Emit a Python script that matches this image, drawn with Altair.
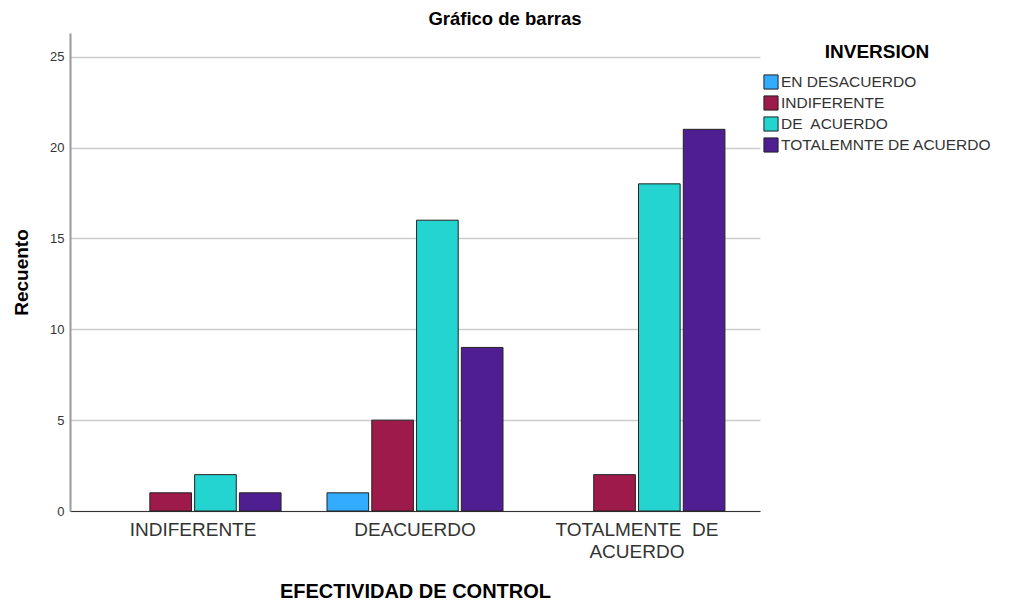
import altair as alt
import pandas as pd

categories = ["INDIFERENTE", "DEACUERDO", "TOTALMENTE\u00a0 DE|ACUERDO"]
series = ["EN DESACUERDO", "INDIFERENTE", "DE\u00a0 ACUERDO", "TOTALEMNTE DE ACUERDO"]
colors = ["#33abff", "#9e1a4a", "#23d4d0", "#4f1f91"]
values = {
    "EN DESACUERDO": [0, 1, 0],
    "INDIFERENTE": [1, 5, 2],
    "DE\u00a0 ACUERDO": [2, 16, 18],
    "TOTALEMNTE DE ACUERDO": [1, 9, 21],
}
y_ticks = [0, 5, 10, 15, 20, 25]

rows = []
for s in series:
    for c, v in zip(categories, values[s]):
        if v > 0:
            rows.append({"cat": c, "serie": s, "count": v})
df = pd.DataFrame(rows)

FONT = "Liberation Sans"

chart = alt.Chart(df).mark_bar(stroke="#222222", strokeWidth=1).encode(
    x=alt.X("cat:N", sort=categories,
            scale=alt.Scale(paddingInner=0.207, paddingOuter=0.158),
            axis=alt.Axis(title="EFECTIVIDAD DE CONTROL", labelAngle=0,
                          labelExpr="split(datum.label, '|')",
                          labelFontSize=19, labelColor="#333333", labelFont=FONT,
                          labelPadding=9, labelLineHeight=22,
                          ticks=False, domainColor="#333333", domainWidth=1,
                          titleFontSize=20, titleFont=FONT, titleFontWeight="bold",
                          titleColor="#000000", titlePadding=20)),
    xOffset=alt.XOffset("serie:N", sort=series,
                        scale=alt.Scale(domain=series, paddingInner=0.07)),
    y=alt.Y("count:Q",
            scale=alt.Scale(domain=[0, 26.3], nice=False),
            axis=alt.Axis(title="Recuento", values=y_ticks, grid=True,
                          gridColor="#cccccc", gridWidth=1.5, ticks=False,
                          domainColor="#999999", domainWidth=2,
                          labelFontSize=13, labelColor="#333333", labelFont=FONT,
                          labelPadding=6,
                          titleFontSize=19, titleFont=FONT, titleFontWeight="bold",
                          titleColor="#000000", titlePadding=18)),
    color=alt.Color("serie:N", sort=series,
                    scale=alt.Scale(domain=series, range=colors),
                    legend=alt.Legend(title="INVERSION", orient="none",
                                      legendX=693, legendY=10,
                                      symbolType="square", symbolSize=200,
                                      symbolStrokeColor="#222222", symbolStrokeWidth=1,
                                      symbolOpacity=1, labelLimit=400,
                                      labelFontSize=15.5, labelFont=FONT, labelColor="#333333",
                                      labelOffset=2, rowPadding=1,
                                      titleFontSize=19, titleFont=FONT, titleFontWeight="bold",
                                      titleColor="#000000", titleAnchor="middle",
                                      titlePadding=12)),
).properties(
    width=690, height=478,
    title=alt.TitleParams("Gráfico de barras", fontSize=18.5, font=FONT,
                          fontWeight="bold", color="#000000", anchor="middle",
                          offset=5, dx=90),
    autosize=alt.AutoSizeParams(type="none"),
    padding={"left": 62, "top": 25, "right": 240, "bottom": 90},
).configure_view(stroke=None)

chart.save("out.html", embed_options={"renderer": "svg", "actions": False})
